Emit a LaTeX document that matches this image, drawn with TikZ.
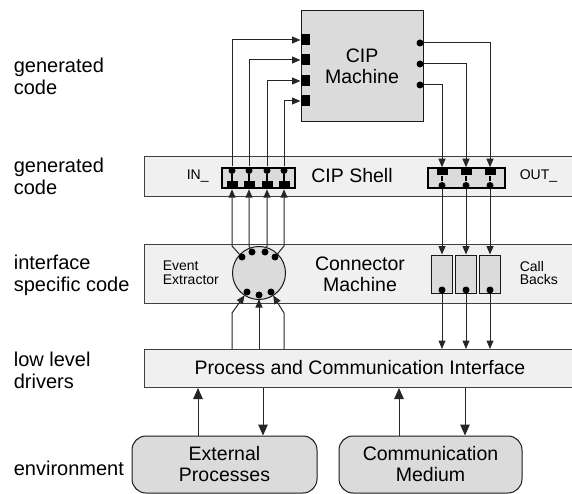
\documentclass[tikz,border=0pt]{standalone}
\usepackage{fontspec}
\setmainfont{Liberation Sans}
\usetikzlibrary{positioning,arrows.meta}

\begin{document}
\begin{tikzpicture}[x=1pt, y=-1pt, line width=1pt,
	band/.style={draw=black!75, fill=black!6, inner sep=0pt, anchor=north west, minimum width=430pt},
	box/.style={draw=black!90, fill=black!14, inner sep=0pt},
	portbox/.style={draw=black, line width=2.2pt, fill=black!14, inner sep=0pt},
	big/.style={font=\fontsize{19.5}{21}\selectfont, align=center},
	small/.style={font=\fontsize{14}{13.5}\selectfont, align=left, anchor=west},
	lab/.style={font=\fontsize{20}{22}\selectfont, align=left, anchor=west},
	sig/.style={draw=black!85, -{Triangle[length=8.5pt,width=7pt]}},
	bigsig/.style={draw=black!85, -{Triangle[length=11pt,width=9.5pt]}},
	pindot/.style={circle, fill=black, inner sep=0pt, minimum size=7pt},
	pin/.style={fill=black, inner sep=0pt, minimum width=11pt, minimum height=7.5pt}]
	\useasboundingbox (0,0) rectangle (572,494);

	% layers
	\node [lab] (l1) at (10,76) {generated\\code};
	\node [lab] (l2) at (10,176.5) {generated\\code};
	\node [lab] (l3) at (10,275) {interface\\specific code};
	\node [lab] (l4) at (10,370) {low level\\drivers};
	\node [lab] (l5) at (10,468) {environment};

	% bands
	\node [band, minimum height=40pt] (shell) at (144,156) {};
	\node [band, minimum height=59pt] (conn) at (144,244) {};
	\node [band, minimum height=38pt] (pci) at (144,349) {};
	\node [big] (shelltxt) at (352,176) {CIP Shell};
	\node [big] (conntxt) at (360,274) {Connector\\Machine};
	\node [big] (pcitxt) at (360,368) {Process and Communication Interface};
	\node [small] (intxt) at (183,176) {IN\_};
	\node [small] (outtxt) at (516,176) {OUT\_};
	\node [small] (eetxt) at (159,273) {Event\\Extractor};
	\node [small] (cbtxt) at (516,273) {Call\\Backs};

	% CIP machine
	\node [box, big, minimum width=122pt, minimum height=111pt] (cip) at (362,66.5) {CIP\\Machine};
	\foreach \y [count=\i] in {40,60,81,101}
		\node [fill=black, inner sep=0pt, minimum width=9pt, minimum height=11pt] (in\i) at (305.5,\y) {};
	\foreach \y [count=\i] in {43,64,85}
		\node [pindot] (oc\i) at (420,\y) {};

	% shell ports
	\node [portbox, minimum width=73pt, minimum height=20pt] (inbox) at (258.5,178) {};
	\node [portbox, minimum width=77pt, minimum height=20pt] (outbox) at (466.5,178) {};
	\foreach \x [count=\i] in {232,249,267,284} {
		\node [pin] (ib\i) at (\x,185) {};
		\node [pindot] (ia\i) at (\x,170.5) {};
		\draw [line width=2pt] (ia\i) -- (ib\i);
	}
	\foreach \x [count=\i] in {490,466,442} {
		\node [pin] (ob\i) at (\x,171.5) {};
		\node [pindot] (od\i) at (\x,185.5) {};
		\draw [line width=2pt] (ob\i) -- (od\i);
	}

	% event extractor and call backs
	\node [box, circle, minimum size=53pt] (ee) at (259,273) {};
	\node [pindot] (et1) at (242,257) {};
	\node [pindot] (et2) at (252,252) {};
	\node [pindot] (et3) at (265,252) {};
	\node [pindot] (et4) at (275,257) {};
	\node [pindot] (eb1) at (247,292) {};
	\node [pindot] (eb2) at (259,295) {};
	\node [pindot] (eb3) at (271,292) {};
	\foreach \x [count=\i] in {490,466,442} {
		\node [box, minimum width=21pt, minimum height=38pt] (cb\i) at (\x,274) {};
		\node [pindot] (cd\i) at (\x,290) {};
	}

	% environment
	\node [box, big, rounded corners=14pt, minimum width=185pt, minimum height=57pt] (ext) at (224.5,464.5) {External\\Processes};
	\node [box, big, rounded corners=14pt, minimum width=183pt, minimum height=57pt] (comm) at (430.5,464.5) {Communication\\Medium};

	% signals
	\foreach \i in {1,...,4}
		\draw [sig] (ia\i) |- (in\i.west);
	\foreach \i in {1,2,3}
		\draw [sig] (oc\i) -| (ob\i.north);
	\foreach \i in {1,...,4}
		\draw [sig] (et\i) -- (ib\i.south |- 0,246) -- (ib\i.south);
	\draw [sig] (eb1 |- pci.north) ++(-15,0) -- ++(0,-36) -- (eb1);
	\draw [sig] (eb2 |- pci.north) -- (eb2);
	\draw [sig] (eb3 |- pci.north) ++(13,0) -- ++(0,-36) -- (eb3);
	\foreach \i in {1,2,3} {
		\draw [sig] (od\i) -- (cb\i.north);
		\draw [sig] (cd\i) -- (cd\i |- pci.north);
	}
	\draw [bigsig] (ext.north -| 198,0) -- (pci.south -| 198,0);
	\draw [bigsig] (pci.south -| 263,0) -- (ext.north -| 263,0);
	\draw [bigsig] (comm.north -| 399,0) -- (pci.south -| 399,0);
	\draw [bigsig] (pci.south -| 465,0) -- (comm.north -| 465,0);
\end{tikzpicture}
\end{document}
